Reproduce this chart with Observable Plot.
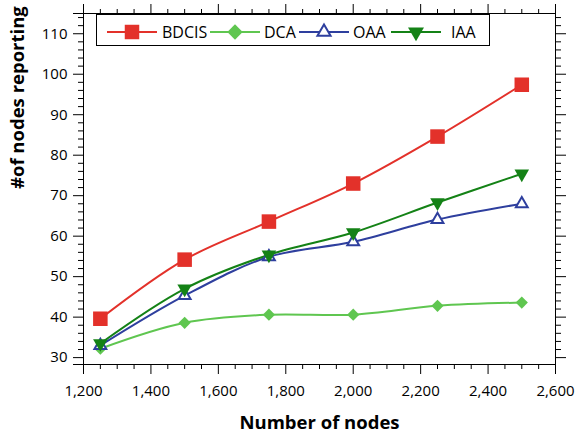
<!DOCTYPE html>
<html>
<head>
<meta charset="utf-8">
<script src="https://cdn.jsdelivr.net/npm/d3@7"></script>
<script src="https://cdn.jsdelivr.net/npm/@observablehq/plot@0.6"></script>
<style>
  html, body { margin: 0; padding: 0; background: #fff; }
  #wrap { position: relative; width: 575px; height: 438px; font-family: "Open Sans", sans-serif; }
  #legend { position: absolute; left: 96px; top: 14px; width: 392px; height: 30px; border: 1px solid #000; background: #fff; }
</style>
</head>
<body>
<div id="wrap"><div id="chart"></div><div id="legend"></div></div>
<script>
const nodes = [1250, 1500, 1750, 2000, 2250, 2500];
const seriesNames = ["BDCIS", "DCA", "OAA", "IAA"];
const bdcis = [39.6, 54.2, 63.6, 73.0, 84.6, 97.4];
const dca   = [32.2, 38.6, 40.6, 40.6, 42.8, 43.6];
const oaa   = [33.0, 45.3, 54.9, 58.6, 64.1, 68.0];
const iaa   = [33.5, 47.0, 55.4, 60.9, 68.3, 75.4];
const colors = ["#e3312a", "#5fc650", "#2e3f9e", "#148216"];
const xMajor = [1200, 1400, 1600, 1800, 2000, 2200, 2400, 2600];
const yMajor = [30, 40, 50, 60, 70, 80, 90, 100, 110];
const xDomain = [1200, 2600];
const yDomain = [28.3, 115];

const xMinor = d3.range(1200, 2601, 50).filter(v => !xMajor.includes(v));
const yMinor = d3.range(30, 115, 2).filter(v => !yMajor.includes(v));

const values = [bdcis, dca, oaa, iaa];
const rows = seriesNames.flatMap((s, i) => nodes.map((n, j) => ({series: s, x: n, y: values[i][j]})));
const of = s => rows.filter(r => r.series === s);

const triDown = {
  draw(ctx, size) {
    const s3 = Math.sqrt(3);
    const y = -Math.sqrt(size / (s3 * 3));
    ctx.moveTo(0, -y * 2);
    ctx.lineTo(-s3 * y, y);
    ctx.lineTo(s3 * y, y);
    ctx.closePath();
  }
};

const blank = () => "";
const chart = Plot.plot({
  width: 575,
  height: 438,
  marginTop: 13,
  marginRight: 20,
  marginBottom: 74,
  marginLeft: 83,
  style: {fontFamily: "Open Sans, sans-serif", fontSize: "15px", color: "#000", background: "#fff"},
  x: {domain: xDomain},
  y: {domain: yDomain},
  marks: [
    Plot.frame({stroke: "#000"}),
    Plot.axisX(xMajor, {anchor: "bottom", tickSize: 10, tickPadding: 11, tickFormat: d3.format(","), label: null, fontSize: 15}),
    Plot.axisX(xMinor, {anchor: "bottom", tickSize: 5, tickFormat: blank, label: null}),
    Plot.axisX(xMajor, {anchor: "top", tickSize: 10, tickFormat: blank, label: null}),
    Plot.axisX(xMinor, {anchor: "top", tickSize: 5, tickFormat: blank, label: null}),
    Plot.axisY(yMajor, {anchor: "left", tickSize: 10, tickPadding: 6, label: null, fontSize: 15}),
    Plot.axisY(yMinor, {anchor: "left", tickSize: 5, tickFormat: blank, label: null}),
    Plot.axisY(yDomain, {anchor: "left", tickSize: 10, tickFormat: blank, label: null}),
    Plot.axisY(yMajor, {anchor: "right", tickSize: 10, tickFormat: blank, label: null}),
    Plot.axisY(yMinor, {anchor: "right", tickSize: 5, tickFormat: blank, label: null}),
    ...seriesNames.map((s, i) => Plot.line(of(s), {x: "x", y: "y", stroke: colors[i], strokeWidth: 2, curve: "catmull-rom"})),
    Plot.dot(of("BDCIS"), {x: "x", y: "y", symbol: "square", r: 8.2, fill: colors[0]}),
    Plot.dot(of("DCA"), {x: "x", y: "y", symbol: "diamond2", r: 5.5, fill: colors[1]}),
    Plot.dot(of("OAA"), {x: "x", y: "y", symbol: "triangle", r: 4.4, fill: "#fff", stroke: colors[2], strokeWidth: 2}),
    Plot.dot(of("IAA"), {x: "x", y: "y", symbol: triDown, r: 5.4, fill: colors[3]}),
    Plot.text(["Number of nodes"], {frameAnchor: "bottom", dy: 59, lineAnchor: "middle", fontSize: 18.5, fontWeight: "bold", fill: "#000"}),
    Plot.text(["#of nodes reporting"], {frameAnchor: "left", dx: -65, rotate: -90, lineAnchor: "middle", fontSize: 18.5, fontWeight: "bold", fill: "#000"})
  ]
});
document.getElementById("chart").appendChild(chart);

// Legend
const legendSym = [
  {sym: d3.symbolSquare, size: 210, fill: colors[0], stroke: "none"},
  {sym: d3.symbolDiamond2, size: 150, fill: colors[1], stroke: "none"},
  {sym: d3.symbolTriangle, size: 75, fill: "#fff", stroke: colors[2]},
  {sym: triDown, size: 110, fill: colors[3], stroke: "none"}
];
const lineX = [10, 113, 202, 294];
const textX = [65, 167, 256, 354];
const lsvg = d3.select("#legend").append("svg").attr("width", 392).attr("height", 30)
  .style("font-family", "Open Sans, sans-serif");
seriesNames.forEach((s, i) => {
  const g = lsvg.append("g");
  g.append("line").attr("x1", lineX[i]).attr("x2", lineX[i] + 50).attr("y1", 17).attr("y2", 17)
    .attr("stroke", colors[i]).attr("stroke-width", 2);
  g.append("path").attr("transform", `translate(${lineX[i] + 25},17)`)
    .attr("d", d3.symbol(legendSym[i].sym, legendSym[i].size)())
    .attr("fill", legendSym[i].fill).attr("stroke", legendSym[i].stroke).attr("stroke-width", 2);
  g.append("text").attr("x", textX[i]).attr("y", 17).attr("dy", "0.35em")
    .attr("font-size", 16).attr("fill", "#000").text(s);
});
</script>
</body>
</html>
